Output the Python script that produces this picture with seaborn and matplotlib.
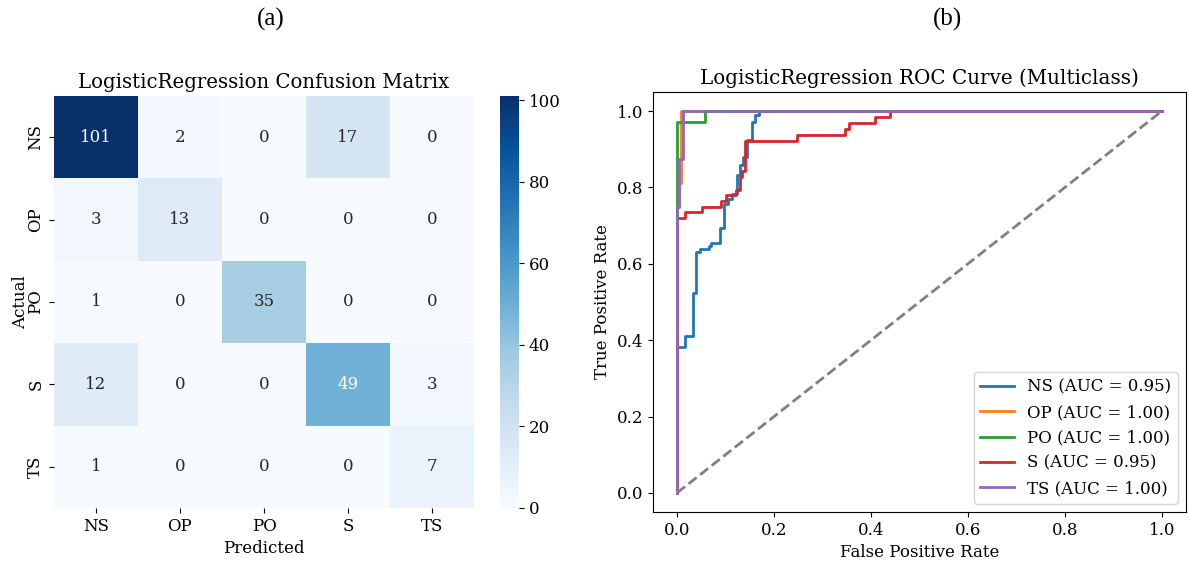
import numpy as np
import pandas as pd
import matplotlib
matplotlib.use("Agg")
import matplotlib.pyplot as plt
import seaborn as sns

plt.rcParams['font.family'] = ['DejaVu Serif']

# ---------------- data ----------------
classes = ["NS", "OP", "PO", "S", "TS"]
cm_values = [
    [101, 2, 0, 17, 0],
    [3, 13, 0, 0, 0],
    [1, 0, 35, 0, 0],
    [12, 0, 0, 49, 3],
    [1, 0, 0, 0, 7],
]
auc_values = [0.95, 1.00, 1.00, 0.95, 1.00]

fpr_ns = [0, 0, 0.0165, 0.0165, 0.032, 0.032, 0.039, 0.039, 0.047, 0.047, 0.065, 0.065,
          0.071, 0.071, 0.089, 0.089, 0.097, 0.097, 0.106, 0.106, 0.113, 0.113, 0.124,
          0.124, 0.130, 0.130, 0.137, 0.137, 0.145, 0.145, 0.154, 0.154, 0.161, 0.161,
          0.170, 0.170, 1.0]
tpr_ns = [0, 0.383, 0.383, 0.41, 0.41, 0.523, 0.523, 0.632, 0.632, 0.64, 0.64, 0.647,
          0.647, 0.655, 0.655, 0.693, 0.693, 0.758, 0.758, 0.771, 0.771, 0.784, 0.784,
          0.832, 0.832, 0.859, 0.859, 0.880, 0.880, 0.924, 0.924, 0.972, 0.972, 0.99,
          0.99, 1.0, 1.0]

fpr_op = [0, 0, 0.004, 0.004, 0.009, 0.009, 1.0]
tpr_op = [0, 0.75, 0.75, 0.8125, 0.8125, 1.0, 1.0]

fpr_po = [0, 0, 0.058, 0.058, 1.0]
tpr_po = [0, 0.972, 0.972, 1.0, 1.0]

fpr_s = [0, 0, 0.0165, 0.0165, 0.051, 0.051, 0.091, 0.091, 0.101, 0.101, 0.122, 0.122,
         0.130, 0.130, 0.135, 0.135, 0.140, 0.140, 0.248, 0.248, 0.346, 0.346, 0.355,
         0.355, 0.408, 0.408, 0.439, 0.439, 1.0]
tpr_s = [0, 0.719, 0.719, 0.735, 0.735, 0.75, 0.75, 0.765, 0.765, 0.781, 0.781, 0.794,
         0.794, 0.828, 0.828, 0.844, 0.844, 0.922, 0.922, 0.937, 0.937, 0.953, 0.953,
         0.969, 0.969, 0.984, 0.984, 1.0, 1.0]

fpr_ts = [0, 0, 0.004, 0.004, 0.012, 0.012, 1.0]
tpr_ts = [0, 0.75, 0.75, 0.875, 0.875, 1.0, 1.0]

diag = [0, 1]

roc_fpr = [fpr_ns, fpr_op, fpr_po, fpr_s, fpr_ts]
roc_tpr = [tpr_ns, tpr_op, tpr_po, tpr_s, tpr_ts]
roc_colors = ["#1f77b4", "#ff7f0e", "#2ca02c", "#d62728", "#9467bd"]

# ---------------- figure ----------------
fig = plt.figure(figsize=(11.89, 5.61), dpi=100)

ax1 = fig.add_axes([0.0454, 0.0945, 0.3532, 0.7344])
cax = fig.add_axes([0.4205, 0.0945, 0.016, 0.7344])
ax2 = fig.add_axes([0.549, 0.0873, 0.4485, 0.7487])

cm_df = pd.DataFrame(cm_values, index=classes, columns=classes)
sns.heatmap(cm_df, annot=True, fmt="d", cmap="Blues", ax=ax1, cbar_ax=cax,
            annot_kws={"fontsize": 12})
ax1.set_title("LogisticRegression Confusion Matrix", fontsize=14.2)
ax1.set_xlabel("Predicted", fontsize=12)
ax1.set_ylabel("Actual", fontsize=12, labelpad=-1)
ax1.tick_params(labelsize=12)
cax.tick_params(labelsize=12)

for f, t, c, name, auc in zip(roc_fpr, roc_tpr, roc_colors, classes, auc_values):
    sns.lineplot(x=f, y=t, sort=False, estimator=None, ax=ax2, color=c, lw=2,
                 label=f"{name} (AUC = {auc:.2f})")
sns.lineplot(x=diag, y=diag, ax=ax2, color="gray", lw=2, linestyle="--",
             estimator=None)
ax2.set_xlim(-0.05, 1.05)
ax2.set_ylim(-0.05, 1.05)
ax2.set_title("LogisticRegression ROC Curve (Multiclass)", fontsize=14.3)
ax2.set_xlabel("False Positive Rate", fontsize=12)
ax2.set_ylabel("True Positive Rate", fontsize=12)
ax2.tick_params(labelsize=12)
ax2.legend(loc="lower right", fontsize=12)

fig.text(0.228, 0.965, "(a)", ha="center", va="center", fontsize=18,
         family="Liberation Serif")
fig.text(0.797, 0.965, "(b)", ha="center", va="center", fontsize=18,
         family="Liberation Serif")

fig.savefig("out.png", dpi=100)
